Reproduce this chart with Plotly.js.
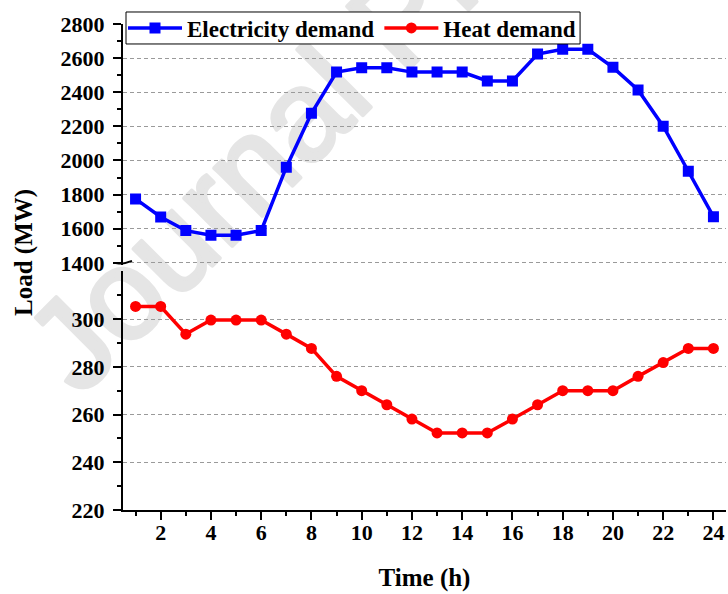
<!DOCTYPE html>
<html><head><meta charset="utf-8">
<script src="https://cdn.plot.ly/plotly-3.0.1.min.js"></script>
<style>
html,body{margin:0;padding:0;background:#fff;}
#wrap{position:relative;width:728px;height:594px;overflow:hidden;background:#fff;}
#wm{position:absolute;left:0;top:0;}
#chart{position:absolute;left:0;top:0;width:728px;height:594px;}
</style></head><body>
<div id="wrap">
<svg id="wm" width="728" height="594"><text x="80" y="398" transform="rotate(-45 80 398)" font-family="Liberation Sans, Arial, sans-serif" font-size="128" fill="#e5e5e5" stroke="#e5e5e5" stroke-width="4" stroke-linejoin="round">Journal Pre-proof</text></svg>
<div id="chart"></div>
</div>
<script>
const hours = [1,2,3,4,5,6,7,8,9,10,11,12,13,14,15,16,17,18,19,20,21,22,23,24];
const electricity = [1775,1669,1589,1562,1562,1589,1961,2277,2518,2544,2544,2518,2518,2518,2466,2466,2624,2652,2652,2546,2413,2201,1937,1671];
const heat = [305.3,305.3,293.7,299.6,299.6,299.6,293.7,287.7,276,270,264.1,258.1,252.3,252.3,252.3,258.1,264.1,270,270,270,276,281.8,287.7,287.7];
const xTicks = [2,4,6,8,10,12,14,16,18,20,22,24];
const lowTicks = [220,240,260,280,300];
const lowMinor = [230,250,270,290,310];
const upTicks = [1400,1600,1800,2000,2200,2400,2600,2800];

const FONT = 'Liberation Serif, "Times New Roman", serif';
const gridStyle = {showgrid:true, gridcolor:'#9a9a9a', gridwidth:1, griddash:'4px,3px'};

const traces = [
  {x:hours, y:electricity, name:'Electricity demand', type:'scatter', mode:'lines+markers',
   xaxis:'x', yaxis:'y2', line:{color:'#0000ff', width:3.5}, marker:{symbol:'square', size:11, color:'#0000ff'}},
  {x:hours, y:heat, name:'Heat demand', type:'scatter', mode:'lines+markers',
   xaxis:'x', yaxis:'y', line:{color:'#ff0000', width:3.5}, marker:{symbol:'circle', size:11, color:'#ff0000'}}
];

const tickFont = {family:FONT, size:22, color:'#000', weight:'bold'};

const layout = {
  width:728, height:594,
  margin:{l:123, r:2, t:24, b:84, autoexpand:false},
  paper_bgcolor:'rgba(0,0,0,0)', plot_bgcolor:'rgba(0,0,0,0)',
  showlegend:true,
  legend:{orientation:'h', x:0, y:0.9918, xanchor:'left', yanchor:'middle',
    bgcolor:'rgba(0,0,0,0)', borderwidth:0, itemwidth:54,
    font:{family:FONT, size:23, color:'#000', weight:'bold'}},
  xaxis:{anchor:'y', range:[0.5,24.5], tickmode:'array', tickvals:xTicks,
    showline:true, linecolor:'#000', linewidth:2, ticks:'outside', ticklen:8, tickwidth:2, tickcolor:'#000',
    minor:{dtick:1, tick0:0, ticks:'outside', ticklen:4, tickwidth:2, tickcolor:'#000'},
    showgrid:false, zeroline:false, tickfont:tickFont, ticklabelstandoff:-6,
    title:{text:'Time (h)', font:{family:FONT, size:25, color:'#000', weight:'bold'}, standoff:24}},
  yaxis:Object.assign({domain:[0,0.491], anchor:'x', range:[220,320], tickmode:'array', tickvals:lowTicks,
    showline:true, linecolor:'#000', linewidth:2, ticks:'outside', ticklen:8, tickwidth:2, tickcolor:'#000',
    minor:{tickmode:'array', tickvals:lowMinor, ticks:'outside', ticklen:4, tickwidth:2, tickcolor:'#000'},
    zeroline:false, tickfont:tickFont, ticklabelstandoff:4}, gridStyle),
  yaxis2:Object.assign({domain:[0.505,1], anchor:'x', range:[1390,2800], tickmode:'array', tickvals:upTicks,
    showline:true, linecolor:'#000', linewidth:2, ticks:'outside', ticklen:8, tickwidth:2, tickcolor:'#000',
    minor:{dtick:100, tick0:0, ticks:'outside', ticklen:4, tickwidth:2, tickcolor:'#000'},
    zeroline:false, tickfont:tickFont, ticklabelstandoff:4}, gridStyle),
  shapes:[
    {type:'rect', xref:'paper', yref:'paper', x0:0.005, x1:0.758, y0:0.9589, y1:1.0247,
     fillcolor:'#ffffff', line:{color:'#000', width:1}, layer:'above'},
    {type:'line', xref:'paper', yref:'y2', xsizemode:'pixel', xanchor:0, x0:-10, x1:9,
     ysizemode:'pixel', yanchor:1400, y0:-4, y1:2, line:{color:'#000', width:2}},
    {type:'line', xref:'paper', yref:'y2', xsizemode:'pixel', xanchor:0, x0:-10, x1:9,
     ysizemode:'pixel', yanchor:1400, y0:-13, y1:-7, line:{color:'#000', width:2}}
  ],
  annotations:[
    {text:'Load (MW)', xref:'paper', yref:'paper', x:-0.164, y:0.529, xanchor:'center', yanchor:'middle',
     textangle:-90, showarrow:false, font:{family:FONT, size:25, color:'#000', weight:'bold'}}
  ]
};

Plotly.newPlot('chart', traces, layout, {displayModeBar:false, staticPlot:true});
</script>
</body></html>
